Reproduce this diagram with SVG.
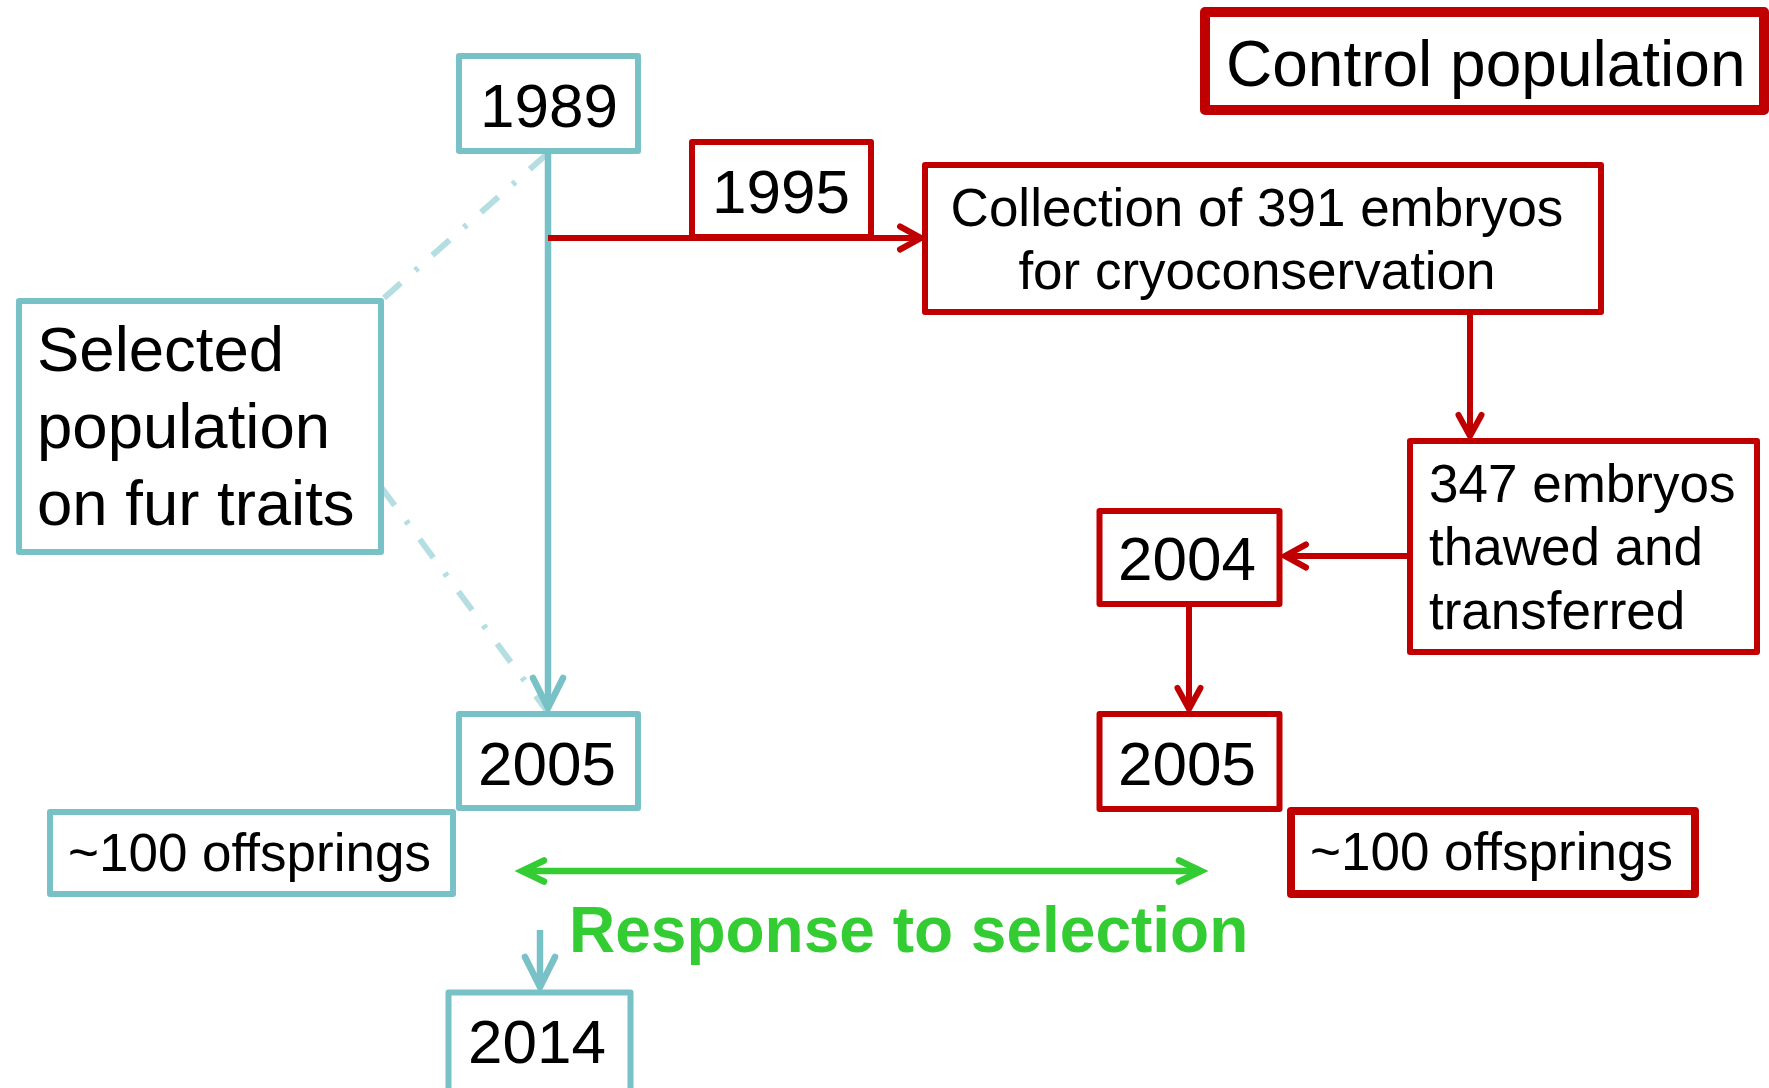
<svg xmlns="http://www.w3.org/2000/svg" width="1769" height="1088" viewBox="0 0 1769 1088">
  <style>
    text { font-family: "Liberation Sans", Arial, sans-serif; fill: #000; }
    .teal { fill: #fff; stroke: #78C1C7; stroke-width: 6; stroke-linejoin: round; }
    .red { fill: #fff; stroke: #C00000; stroke-width: 6; stroke-linejoin: round; }
    .redthick { fill: #fff; stroke: #C00000; stroke-width: 10; stroke-linejoin: round; }
    .redmid { fill: #fff; stroke: #C00000; stroke-width: 8; stroke-linejoin: round; }
    .year { font-size: 62px; text-anchor: middle; }
    .big { font-size: 63.5px; }
    .mid { font-size: 53px; }
    .tline { fill: none; stroke: #78C1C7; stroke-width: 6.5; }
    .rline { fill: none; stroke: #C00000; stroke-width: 6; }
    .gline { fill: none; stroke: #33CC33; stroke-width: 6.5; }
    .dd { fill: none; stroke: #B4DEE1; stroke-width: 6; stroke-dasharray: 23 19 4 19; }
  </style>
  <defs>
    <marker id="ah-teal" markerUnits="userSpaceOnUse" viewBox="-34 -20 40 40" refX="0" refY="0" markerWidth="40" markerHeight="40" orient="auto" overflow="visible">
      <path d="M-30,-15 L0,0 L-30,15" fill="none" stroke="#78C1C7" stroke-width="6.5" stroke-linecap="round" stroke-linejoin="miter"/>
    </marker>
    <marker id="ah-red" markerUnits="userSpaceOnUse" viewBox="-26 -16 30 32" refX="0" refY="0" markerWidth="30" markerHeight="32" orient="auto" overflow="visible">
      <path d="M-21,-11.5 L0,0 L-21,11.5" fill="none" stroke="#C00000" stroke-width="6" stroke-linecap="round"/>
    </marker>
    <marker id="ah-green" markerUnits="userSpaceOnUse" viewBox="-26 -16 30 32" refX="0" refY="0" markerWidth="30" markerHeight="32" orient="auto-start-reverse" overflow="visible">
      <path d="M-22,-10.5 L0,0 L-22,10.5" fill="none" stroke="#33CC33" stroke-width="6.5" stroke-linecap="round"/>
    </marker>
  </defs>

  <g id="connectors">
    <line class="dd" x1="547" y1="154" x2="384" y2="298"/>
    <line class="dd" x1="381" y1="487" x2="547" y2="711"/>
    <line class="tline" x1="548" y1="154" x2="548" y2="708" marker-end="url(#ah-teal)"/>
    <line class="rline" x1="548" y1="238" x2="921" y2="238" marker-end="url(#ah-red)"/>
    <line class="rline" x1="1470" y1="312" x2="1470" y2="436" marker-end="url(#ah-red)"/>
    <line class="rline" x1="1407" y1="556" x2="1285" y2="556" marker-end="url(#ah-red)"/>
    <line class="rline" x1="1189" y1="607" x2="1189" y2="709" marker-end="url(#ah-red)"/>
    <line class="tline" x1="540" y1="930" x2="540" y2="987" marker-end="url(#ah-teal)"/>
    <line class="gline" x1="522" y1="871" x2="1201" y2="871" marker-start="url(#ah-green)" marker-end="url(#ah-green)"/>
  </g>

  <g id="node-1989">
    <rect class="teal" x="459" y="56" width="179" height="95"/>
    <text class="year" x="549" y="127">1989</text>
  </g>
  <g id="node-selected">
    <rect class="teal" x="19" y="301" width="362" height="251"/>
    <text class="big" x="37" y="371">Selected</text>
    <text class="big" x="37" y="448">population</text>
    <text class="big" x="37" y="525">on fur traits</text>
  </g>
  <g id="node-2005-sel">
    <rect class="teal" x="459" y="714" width="179" height="94"/>
    <text class="year" x="547" y="785">2005</text>
  </g>
  <g id="node-offspring-sel">
    <rect class="teal" x="50" y="812" width="403" height="82"/>
    <text class="mid" x="68" y="871">~100 offsprings</text>
  </g>
  <g id="node-2014">
    <rect class="teal" x="448.5" y="992.5" width="182" height="110"/>
    <text class="year" x="537" y="1063">2014</text>
  </g>

  <g id="node-control">
    <rect class="redthick" x="1205" y="12" width="559" height="98"/>
    <text style="font-size:64px" x="1226" y="86">Control population</text>
  </g>
  <g id="node-1995">
    <rect class="red" x="692" y="142" width="179" height="95"/>
    <text class="year" x="781" y="213">1995</text>
  </g>
  <g id="node-collection">
    <rect class="red" x="925" y="165" width="676" height="147"/>
    <text class="mid" x="1257" y="226" text-anchor="middle">Collection of 391 embryos</text>
    <text class="mid" x="1257" y="289" text-anchor="middle">for cryoconservation</text>
  </g>
  <g id="node-347">
    <rect class="red" x="1410" y="441" width="347" height="211"/>
    <text class="mid" x="1429" y="502">347 embryos</text>
    <text class="mid" x="1429" y="565">thawed and</text>
    <text class="mid" x="1429" y="629">transferred</text>
  </g>
  <g id="node-2004">
    <rect class="red" x="1099.5" y="511" width="180" height="93"/>
    <text class="year" x="1187" y="580">2004</text>
  </g>
  <g id="node-2005-ctrl">
    <rect class="red" x="1099.5" y="714" width="180" height="95"/>
    <text class="year" x="1187" y="785">2005</text>
  </g>
  <g id="node-offspring-ctrl">
    <rect class="redmid" x="1291" y="811" width="404" height="83"/>
    <text class="mid" x="1310" y="870">~100 offsprings</text>
  </g>

  <g id="label-response">
    <text x="569" y="952" style="font-size:64px;font-weight:bold;fill:#33CC33">Response to selection</text>
  </g>
</svg>
